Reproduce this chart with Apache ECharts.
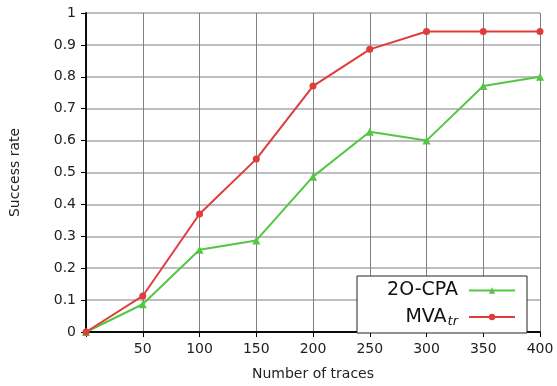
<!DOCTYPE html>
<html>
<head>
<meta charset="utf-8">
<script src="https://cdn.jsdelivr.net/npm/echarts@6/dist/echarts.min.js"></script>
<style>
  html, body { margin: 0; padding: 0; background: #fff; }
  #chart { width: 557px; height: 386px; }
</style>
</head>
<body>
<div id="chart"></div>
<script>
const traces = [0, 50, 100, 150, 200, 250, 300, 350, 400];
const cpa2o = [0, 0.087, 0.258, 0.287, 0.487, 0.628, 0.6, 0.771, 0.8];
const mvaTr = [0, 0.113, 0.37, 0.542, 0.771, 0.886, 0.942, 0.942, 0.942];
const xTickLabels = ["", "50", "100", "150", "200", "250", "300", "350", "400"];

const FONT = "DejaVu Sans";
const GREEN = "#55c545";
const RED = "#e03c3c";
const LEGEND_TEXT_W = 92;

// measure text so both legend entries end at the same right edge
const measureCtx = document.createElement("canvas").getContext("2d");
function textW(str, size, style) {
  measureCtx.font = (style || "") + " " + size + "px '" + FONT + "'";
  return measureCtx.measureText(str).width;
}
const mvaSpacer = Math.max(0, LEGEND_TEXT_W - textW("MVA", 19) - textW("tr", 13, "italic") - 1);

const chart = echarts.init(document.getElementById("chart"));

const toPairs = (ys) => traces.map((x, i) => [x, ys[i]]);

const frameAxis = {
  axisLine: { show: true, lineStyle: { color: "#000", width: 1.5 } },
  axisTick: { show: true, inside: true, length: 5, lineStyle: { color: "#000" } },
  axisLabel: { show: false },
  splitLine: { show: false },
};

chart.setOption({
  animation: false,
  textStyle: { fontFamily: FONT },
  grid: { left: 86, right: 17, top: 13, bottom: 50 },
  xAxis: [
    {
      type: "value",
      min: 0,
      max: 400,
      interval: 50,
      name: "Number of traces",
      nameLocation: "middle",
      nameGap: 35,
      nameTextStyle: { fontSize: 14, color: "#222", fontFamily: FONT },
      axisLine: { lineStyle: { color: "#000", width: 1.5 } },
      axisTick: { show: false },
      axisLabel: {
        fontSize: 14,
        color: "#222",
        margin: 10,
        formatter: (v) => xTickLabels[traces.indexOf(v)] ?? "",
      },
      splitLine: { show: true, lineStyle: { color: "#808080", width: 1 } },
    },
    Object.assign({ type: "value", position: "top", min: 0, max: 400, interval: 50 }, frameAxis),
  ],
  yAxis: [
    {
      type: "value",
      min: 0,
      max: 1,
      interval: 0.1,
      name: "Success rate",
      nameLocation: "middle",
      nameGap: 64,
      nameTextStyle: { fontSize: 14, color: "#222", fontFamily: FONT },
      axisLine: { show: true, lineStyle: { color: "#000", width: 1.5 } },
      axisTick: { show: false },
      axisLabel: {
        fontSize: 14,
        color: "#222",
        margin: 10,
        formatter: (v) => String(Math.round(v * 10) / 10),
      },
      splitLine: { show: true, lineStyle: { color: "#a8a8a8", width: 1.5 } },
    },
    Object.assign({ type: "value", position: "right", min: 0, max: 1, interval: 0.1 }, frameAxis),
  ],
  legend: {
    orient: "vertical",
    left: 357,
    top: 276,
    align: "right",
    backgroundColor: "#fff",
    borderColor: "#222",
    borderWidth: 1,
    padding: [5, 11, 5, 9],
    itemGap: 6,
    itemWidth: 46,
    itemHeight: 8,
    data: ["2O-CPA", "MVAtr"],
    formatter: (name) =>
      name === "MVAtr" ? "{s|}{a|MVA}{b|tr}{p|}" : "{c|2O-CPA}{p|}",
    textStyle: {
      fontFamily: FONT,
      rich: {
        s: { width: mvaSpacer, lineHeight: 22 },
        c: { fontSize: 19, color: "#111", width: LEGEND_TEXT_W, align: "right", lineHeight: 22 },
        a: { fontSize: 19, color: "#111", lineHeight: 22 },
        b: { fontSize: 13, color: "#111", fontStyle: "italic", verticalAlign: "bottom", lineHeight: 22, padding: [9, 0, 0, 1] },
        p: { width: 6 },
      },
    },
  },
  series: [
    {
      name: "2O-CPA",
      type: "line",
      data: toPairs(cpa2o),
      symbol: "triangle",
      symbolSize: 8,
      itemStyle: { color: GREEN },
      lineStyle: { color: GREEN, width: 2 },
      z: 3,
    },
    {
      name: "MVAtr",
      type: "line",
      data: toPairs(mvaTr),
      symbol: "circle",
      symbolSize: 7,
      itemStyle: { color: RED },
      lineStyle: { color: RED, width: 2 },
      z: 4,
    },
  ],
});
</script>
</body>
</html>
